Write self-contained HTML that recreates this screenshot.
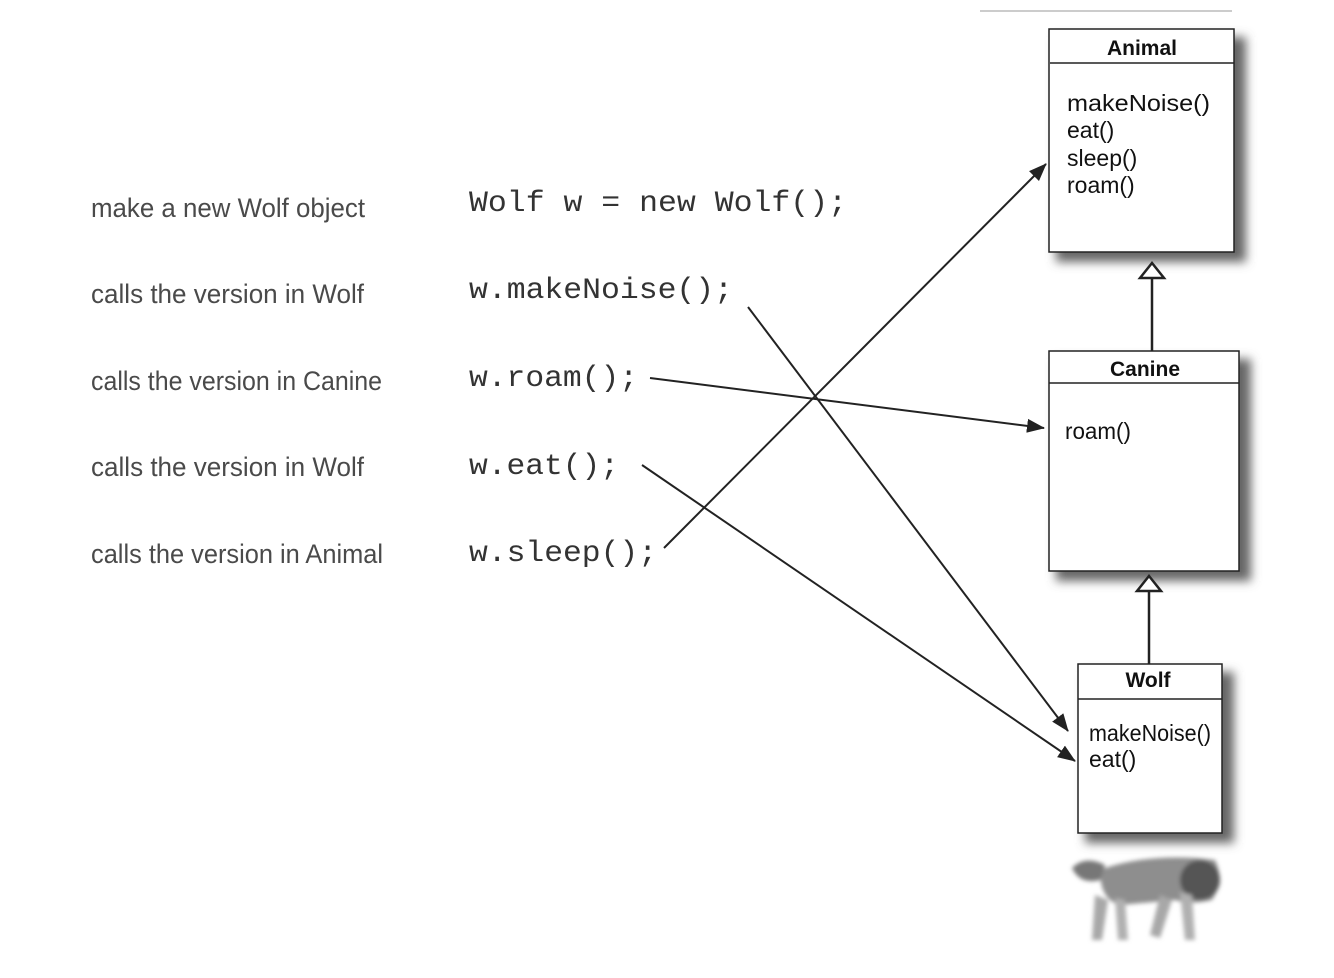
<!DOCTYPE html>
<html><head><meta charset="utf-8"><style>
html,body{margin:0;padding:0;background:#fff;}
svg{display:block;}
.h{font-family:"Liberation Sans",sans-serif;font-size:27px;fill:#4a4a4a;}
.c{font-family:"Liberation Mono",monospace;font-size:30px;fill:#333;}
.t{font-family:"Liberation Sans",sans-serif;font-size:21px;font-weight:bold;fill:#111;}
.m{font-family:"Liberation Sans",sans-serif;font-size:23px;fill:#111;}
</style></head><body>
<svg width="1334" height="978" viewBox="0 0 1334 978" xmlns="http://www.w3.org/2000/svg">
<defs>
<filter id="sh" x="-20%" y="-20%" width="150%" height="150%"><feGaussianBlur stdDeviation="5"/></filter>
<filter id="bl"><feGaussianBlur stdDeviation="2"/></filter>
<marker id="ab" markerWidth="18" markerHeight="16" refX="17" refY="8" orient="auto" markerUnits="userSpaceOnUse"><path d="M0,1 L18,8 L0,15 z" fill="#222"/></marker>
</defs>
<line x1="980" y1="11" x2="1232" y2="11" stroke="#ccc" stroke-width="2"/>
<rect x="1056" y="37" width="190" height="225" fill="#666" filter="url(#sh)"/>
<rect x="1056" y="359" width="195" height="222" fill="#666" filter="url(#sh)"/>
<rect x="1085" y="672" width="149" height="171" fill="#666" filter="url(#sh)"/>
<rect x="1049" y="29" width="185" height="223" fill="#fff" stroke="#222" stroke-width="1.5"/>
<line x1="1050" y1="63" x2="1234" y2="63" stroke="#222" stroke-width="1.5"/>
<text x="1142" y="55" class="t" text-anchor="middle">Animal</text>
<text x="1067" y="111" class="m" textLength="143" lengthAdjust="spacingAndGlyphs">makeNoise()</text>
<text x="1067" y="138" class="m">eat()</text>
<text x="1067" y="166" class="m">sleep()</text>
<text x="1067" y="193" class="m">roam()</text>
<rect x="1049" y="351" width="190" height="220" fill="#fff" stroke="#222" stroke-width="1.5"/>
<line x1="1049" y1="383" x2="1239" y2="383" stroke="#222" stroke-width="1.5"/>
<text x="1145" y="376" class="t" text-anchor="middle">Canine</text>
<text x="1065" y="439" class="m" textLength="66" lengthAdjust="spacingAndGlyphs">roam()</text>
<rect x="1078" y="664" width="144" height="169" fill="#fff" stroke="#222" stroke-width="1.5"/>
<line x1="1078" y1="699" x2="1222" y2="699" stroke="#222" stroke-width="1.5"/>
<text x="1148" y="687" class="t" text-anchor="middle">Wolf</text>
<text x="1089" y="741" class="m" textLength="122" lengthAdjust="spacingAndGlyphs">makeNoise()</text>
<text x="1089" y="767" class="m">eat()</text>
<line x1="1152" y1="351" x2="1152" y2="278" stroke="#222" stroke-width="2.5"/>
<path d="M1140,278 L1152,263 L1164,278 z" fill="#fff" stroke="#222" stroke-width="2.5"/>
<line x1="1149" y1="664" x2="1149" y2="591" stroke="#222" stroke-width="2.5"/>
<path d="M1137,591 L1149,576 L1161,591 z" fill="#fff" stroke="#222" stroke-width="2.5"/>
<text x="91" y="217" class="h" textLength="274" lengthAdjust="spacingAndGlyphs">make a new Wolf object</text>
<text x="91" y="303" class="h" textLength="273" lengthAdjust="spacingAndGlyphs">calls the version in Wolf</text>
<text x="91" y="390" class="h" textLength="291" lengthAdjust="spacingAndGlyphs">calls the version in Canine</text>
<text x="91" y="476" class="h" textLength="273" lengthAdjust="spacingAndGlyphs">calls the version in Wolf</text>
<text x="91" y="563" class="h" textLength="292" lengthAdjust="spacingAndGlyphs">calls the version in Animal</text>
<text x="469" y="211" class="c" textLength="378" lengthAdjust="spacingAndGlyphs">Wolf w = new Wolf();</text>
<text x="469" y="298" class="c" textLength="264" lengthAdjust="spacingAndGlyphs">w.makeNoise();</text>
<text x="469" y="386" class="c" textLength="169" lengthAdjust="spacingAndGlyphs">w.roam();</text>
<text x="469" y="474" class="c" textLength="150" lengthAdjust="spacingAndGlyphs">w.eat();</text>
<text x="469" y="561" class="c" textLength="188" lengthAdjust="spacingAndGlyphs">w.sleep();</text>
<line x1="748" y1="307" x2="1068" y2="731" stroke="#222" stroke-width="2" marker-end="url(#ab)"/>
<line x1="650" y1="378" x2="1044" y2="428" stroke="#222" stroke-width="2" marker-end="url(#ab)"/>
<line x1="642" y1="465" x2="1075" y2="761" stroke="#222" stroke-width="2" marker-end="url(#ab)"/>
<line x1="664" y1="548" x2="1046" y2="164" stroke="#222" stroke-width="2" marker-end="url(#ab)"/>
<g filter="url(#bl)">
<path d="M1100,870 Q1140,855 1195,858 L1215,860 Q1225,880 1212,900 Q1190,905 1175,900 L1120,905 Q1100,900 1100,870 z" fill="#8e8e8e"/>
<ellipse cx="1200" cy="880" rx="20" ry="20" fill="#555"/>
<path d="M1072,868 Q1085,855 1105,865 L1100,880 Q1080,885 1072,868 z" fill="#777"/>
<path d="M1095,895 L1092,940 L1102,940 L1108,900 z" fill="#a8a8a8"/>
<path d="M1115,898 L1118,940 L1128,940 L1125,900 z" fill="#b0b0b0"/>
<path d="M1160,895 L1150,935 L1160,938 L1172,900 z" fill="#a8a8a8"/>
<path d="M1180,892 L1185,940 L1195,940 L1192,895 z" fill="#b0b0b0"/>
</g>
</svg>
</body></html>
